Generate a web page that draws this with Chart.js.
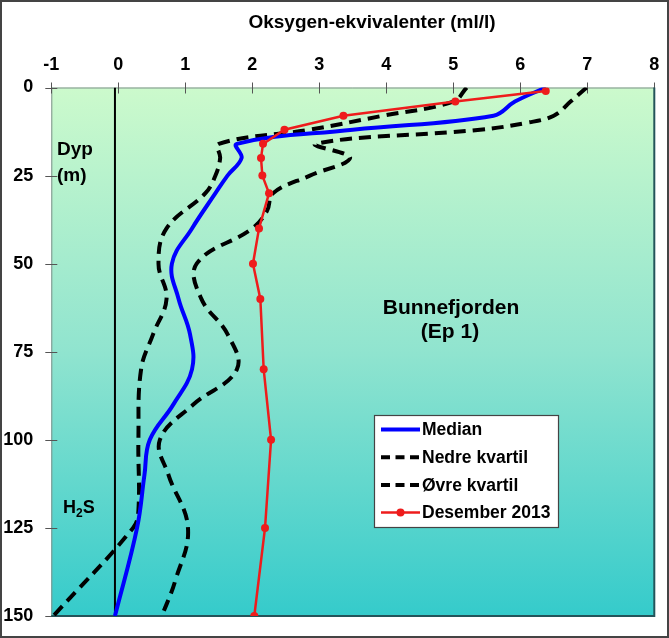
<!DOCTYPE html>
<html><head><meta charset="utf-8">
<script src="https://cdn.jsdelivr.net/npm/chart.js@4/dist/chart.umd.min.js"></script>
<style>html,body{margin:0;padding:0;background:#fff;}#wrap{width:669px;height:638px;position:relative;}</style>
</head><body><div id="wrap"><canvas id="c" width="669" height="638"></canvas></div>
<script>
// ---- data ----
const xTitle = 'Oksygen-ekvivalenter (ml/l)';
const xMin = -1, xMax = 8, xStep = 1;
const yMin = 0, yMax = 150, yStep = 25;

const depthsMedian = [0,4,8,12,16,20,25,30,40,50,60,70,80,90,100,110,125,150];
const median       = [6.38,5.92,5.6,3.5,1.77,1.84,1.63,1.45,1.10,0.80,0.90,1.07,1.10,0.82,0.47,0.39,0.28,-0.05];

const depthsLower = [0,4,8,12,16,20,25,30,40,50,60,70,80,100,120,125,150];
const lowerQ      = [5.2,5.0,3.95,2.85,1.5,1.52,1.45,1.30,0.72,0.60,0.72,0.52,0.34,0.30,0.30,0.22,-0.97];

const depthsUpper = [0,4,8,10,12,16,20,25,30,35,40,50,60,70,80,90,100,110,125,140,150];
const upperQ      = [6.99,6.75,6.5,6.1,5.4,2.95,3.46,2.86,2.31,2.22,2.0,1.17,1.24,1.63,1.77,1.12,0.62,0.75,1.04,0.85,0.65];

const depthsDes = [1,4,8,12,16,20,25,30,40,50,60,80,100,125,150];
const des2013   = [6.38,5.03,3.36,2.48,2.16,2.13,2.15,2.25,2.10,2.01,2.12,2.17,2.28,2.19,2.03];

const refLineX = [-0.05,-0.05];
const refLineD = [0,150];

const labels = ['Median','Nedre kvartil','Øvre kvartil','Desember 2013'];

// ---- chart ----
const FONT = "'Liberation Sans', Arial, Helvetica, sans-serif";
const pts = (xs, ds) => xs.map((v,i)=>({x:v, y:ds[i]}));

const bgPlugin = {
  id:'bg',
  beforeDraw(chart){
    const {ctx, chartArea:a, width, height} = chart;
    ctx.save();
    ctx.fillStyle='#fff'; ctx.fillRect(0,0,width,height);
    const g = ctx.createLinearGradient(0,a.top,0,a.bottom);
    g.addColorStop(0,'#ccfacc');
    g.addColorStop(0.5,'#90e4cf');
    g.addColorStop(1,'#35cbcb');
    ctx.fillStyle=g;
    ctx.fillRect(a.left,a.top,a.right-a.left,a.bottom-a.top);
    ctx.restore();
  },
  beforeDatasetsDraw(chart){
    const {ctx, chartArea:a, scales} = chart;
    ctx.save();
    ctx.strokeStyle='#7f8f8a'; ctx.lineWidth=1;
    ctx.beginPath(); ctx.moveTo(a.left, a.top+0.5); ctx.lineTo(a.right, a.top+0.5); ctx.stroke();
    ctx.beginPath(); ctx.moveTo(a.left+0.5, a.top); ctx.lineTo(a.left+0.5, a.bottom); ctx.stroke();
    ctx.strokeStyle='#555'; ctx.lineWidth=1;
    scales.x.ticks.forEach(t=>{
      const px = Math.round(scales.x.getPixelForValue(t.value))+0.5;
      ctx.beginPath(); ctx.moveTo(px, a.top-5); ctx.lineTo(px, a.top+6); ctx.stroke();
    });
    scales.y.ticks.forEach(t=>{
      const py = Math.round(scales.y.getPixelForValue(t.value))+0.5;
      ctx.beginPath(); ctx.moveTo(a.left-6, py); ctx.lineTo(a.left+6, py); ctx.stroke();
    });
    ctx.strokeStyle='#24545a'; ctx.lineWidth=2;
    ctx.beginPath(); ctx.moveTo(a.right, a.top); ctx.lineTo(a.right, a.bottom); ctx.lineTo(a.left, a.bottom); ctx.stroke();
    ctx.restore();
  },
  afterDraw(chart){
    const {ctx, width, height} = chart;
    ctx.save();
    ctx.fillStyle='#000';
    ctx.font = `bold 19px ${FONT}`; ctx.textAlign='center'; ctx.textBaseline='middle';
    ctx.fillText(xTitle, 372, 23);
    ctx.font = `bold 21px ${FONT}`;
    ctx.fillText('Bunnefjorden', 451, 308);
    ctx.fillText('(Ep 1)', 450, 332);
    ctx.textAlign='left';
    ctx.font = `bold 19px ${FONT}`;
    ctx.fillText('Dyp', 57, 150);
    ctx.fillText('(m)', 57, 176);
    ctx.font = `bold 18px ${FONT}`;
    ctx.fillText('H', 63, 508);
    let w = ctx.measureText('H').width;
    ctx.font = `bold 12px ${FONT}`;
    ctx.fillText('2', 63+w, 514);
    let w2 = ctx.measureText('2').width;
    ctx.font = `bold 18px ${FONT}`;
    ctx.fillText('S', 63+w+w2, 508);
    // legend
    const lx=374, ly=415, lw=184, lh=112;
    ctx.fillStyle='#fff'; ctx.fillRect(lx,ly,lw,lh);
    ctx.strokeStyle='#444'; ctx.lineWidth=1.2; ctx.strokeRect(lx+0.5,ly+0.5,lw,lh);
    const items = labels.map(l=>chart.data.datasets.find(d=>d.label===l));
    items.forEach((d,i)=>{
      const y = 429.5 + i*27.7;
      ctx.strokeStyle=d.borderColor; ctx.lineWidth=Math.min(d.borderWidth,4);
      ctx.setLineDash(d.borderDash && d.borderDash.length ? [9,5.5] : []);
      ctx.beginPath(); ctx.moveTo(381,y); ctx.lineTo(420,y); ctx.stroke();
      ctx.setLineDash([]);
      if (d.pointRadius>0){
        ctx.fillStyle=d.pointBackgroundColor;
        ctx.beginPath(); ctx.arc(400.5,y,d.pointRadius,0,Math.PI*2); ctx.fill();
      }
      ctx.fillStyle='#000'; ctx.font=`bold 17.5px ${FONT}`; ctx.textAlign='left'; ctx.textBaseline='middle';
      ctx.fillText(d.label, 422, y+1);
    });
    ctx.strokeStyle='#444'; ctx.lineWidth=2;
    ctx.strokeRect(1,1,width-2,height-2);
    ctx.restore();
  }
};

new Chart(document.getElementById('c'), {
  type:'scatter',
  data:{ datasets:[
    {label:labels[3], data:pts(des2013,depthsDes), showLine:true, borderColor:'#ee1c1c', backgroundColor:'#ee1c1c',
     borderWidth:2.5, pointRadius:4, pointBackgroundColor:'#ee1c1c', pointBorderWidth:0, tension:0, order:0},
    {label:labels[0], data:pts(median,depthsMedian), showLine:true, borderColor:'#0000ff', borderWidth:4,
     pointRadius:0, tension:0.4, order:1},
    {label:labels[1], data:pts(lowerQ,depthsLower), showLine:true, borderColor:'#000', borderWidth:4, borderDash:[12,7],
     pointRadius:0, tension:0.4, order:2},
    {label:labels[2], data:pts(upperQ,depthsUpper), showLine:true, borderColor:'#000', borderWidth:4, borderDash:[12,7],
     pointRadius:0, tension:0.4, order:3},
    {label:'', data:pts(refLineX,refLineD), showLine:true, borderColor:'#000', borderWidth:2, pointRadius:0, order:4}
  ]},
  options:{
    responsive:false, animation:false, devicePixelRatio:1,
    layout:{padding:{left:0, top:0, right:14.7, bottom:22}},
    plugins:{legend:{display:false}, tooltip:{enabled:false}, title:{display:false}},
    scales:{
      x:{type:'linear', position:'top', min:xMin, max:xMax,
         ticks:{stepSize:xStep, color:'#000', padding:4, font:{family:FONT, size:18, weight:'bold'}},
         grid:{display:false}, border:{display:false},
         afterFit(s){ s.height = 87.5; }},
      y:{type:'linear', reverse:true, min:yMin, max:yMax,
         ticks:{stepSize:yStep, color:'#000', padding:10, font:{family:FONT, size:18, weight:'bold'}},
         grid:{display:false}, border:{display:false},
         afterFit(s){ s.width = 51.3; }}
    }
  },
  plugins:[bgPlugin]
});
</script></body></html>
